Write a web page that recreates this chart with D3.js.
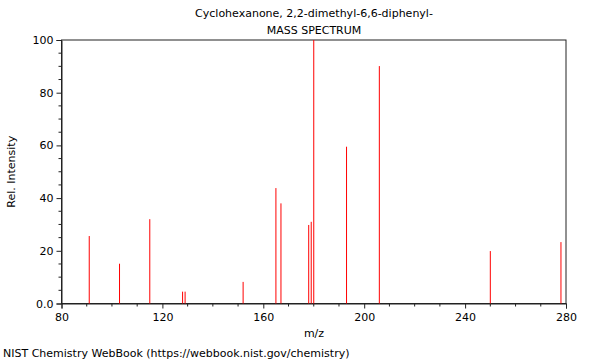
<!DOCTYPE html>
<html lang="en">
<head>
<meta charset="UTF-8">
<title>Mass spectrum</title>
<script src="https://d3js.org/d3.v7.min.js"></script>
<style>
	body { margin: 0; background: white; }
	text { font-family: "DejaVu Sans", sans-serif; fill: #000; }
</style>
</head>
<body>
<svg width="600" height="360"></svg>
<script>
	// peaks
	const mz = [91, 103, 115, 128, 129, 152, 165, 167, 178, 179, 180, 193, 206, 250, 278];
	const intensity = [25.6, 15.1, 32, 4.5, 4.5, 8.2, 43.8, 38, 29.8, 31, 100, 59.5, 90.1, 19.9, 23.3];
	const xTicks = [80, 120, 160, 200, 240, 280];
	const yTicks = [0, 20, 40, 60, 80, 100];

	const svg = d3.select("svg");
	const plotLeft = 61.5, plotRight = 566, plotTop = 40, plotBottom = 303.5;

	const x = d3.scaleLinear().domain([80, 280]).range([plotLeft, plotRight]);
	const y = d3.scaleLinear().domain([0, 100]).range([plotBottom, plotTop]);

	// frame
	svg.append("rect")
		.attr("x", plotLeft).attr("y", plotTop)
		.attr("width", plotRight - plotLeft).attr("height", plotBottom - plotTop)
		.attr("fill", "none").attr("stroke", "#222").attr("stroke-width", 1);

	// minor ticks
	const minorX = d3.range(80, 281, 10).filter(v => !xTicks.includes(v));
	const minorY = d3.range(0, 101, 5).filter(v => !yTicks.includes(v));

	const xAxis = svg.append("g").attr("transform", "translate(0," + plotBottom + ")");
	xAxis.call(d3.axisBottom(x).tickValues(xTicks).tickSize(5).tickPadding(5).tickFormat(d3.format("d")));
	xAxis.append("g").selectAll("line").data(minorX).enter().append("line")
		.attr("x1", d => x(d)).attr("x2", d => x(d)).attr("y1", 0).attr("y2", 3)
		.attr("stroke", "#222");

	const yAxis = svg.append("g").attr("transform", "translate(" + plotLeft + ",0)");
	yAxis.call(d3.axisLeft(y).tickValues(yTicks).tickSize(5).tickPadding(3)
		.tickFormat(d => d === 0 ? "0.0" : d));
	yAxis.append("g").selectAll("line").data(minorY).enter().append("line")
		.attr("x1", 0).attr("x2", -3).attr("y1", d => y(d)).attr("y2", d => y(d))
		.attr("stroke", "#222");

	svg.selectAll(".domain").attr("stroke", "#222");
	svg.selectAll(".tick line").attr("stroke", "#222");
	svg.selectAll(".tick text").style("font-size", "11px").attr("fill", "#000");

	// peaks
	svg.append("g").selectAll("line")
		.data(mz.map((m, i) => ({ m: m, v: intensity[i] })))
		.enter().append("line")
		.attr("x1", d => x(d.m)).attr("x2", d => x(d.m))
		.attr("y1", y(0)).attr("y2", d => y(d.v))
		.attr("stroke", "#ff0000").attr("stroke-width", 1);

	// titles and labels
	svg.append("text").attr("x", 314).attr("y", 17).attr("text-anchor", "middle")
		.style("font-size", "11px").text("Cyclohexanone, 2,2-dimethyl-6,6-diphenyl-");
	svg.append("text").attr("x", 314).attr("y", 34).attr("text-anchor", "middle")
		.style("font-size", "11px").text("MASS SPECTRUM");
	svg.append("text").attr("x", 314).attr("y", 337).attr("text-anchor", "middle")
		.style("font-size", "11px").text("m/z");
	svg.append("text").attr("transform", "translate(15," + ((plotTop + plotBottom) / 2) + ") rotate(-90)")
		.attr("text-anchor", "middle").style("font-size", "11px").text("Rel. Intensity");
	svg.append("text").attr("x", 3).attr("y", 357)
		.style("font-size", "11px").text("NIST Chemistry WebBook (https://webbook.nist.gov/chemistry)");
</script>
</body>
</html>
